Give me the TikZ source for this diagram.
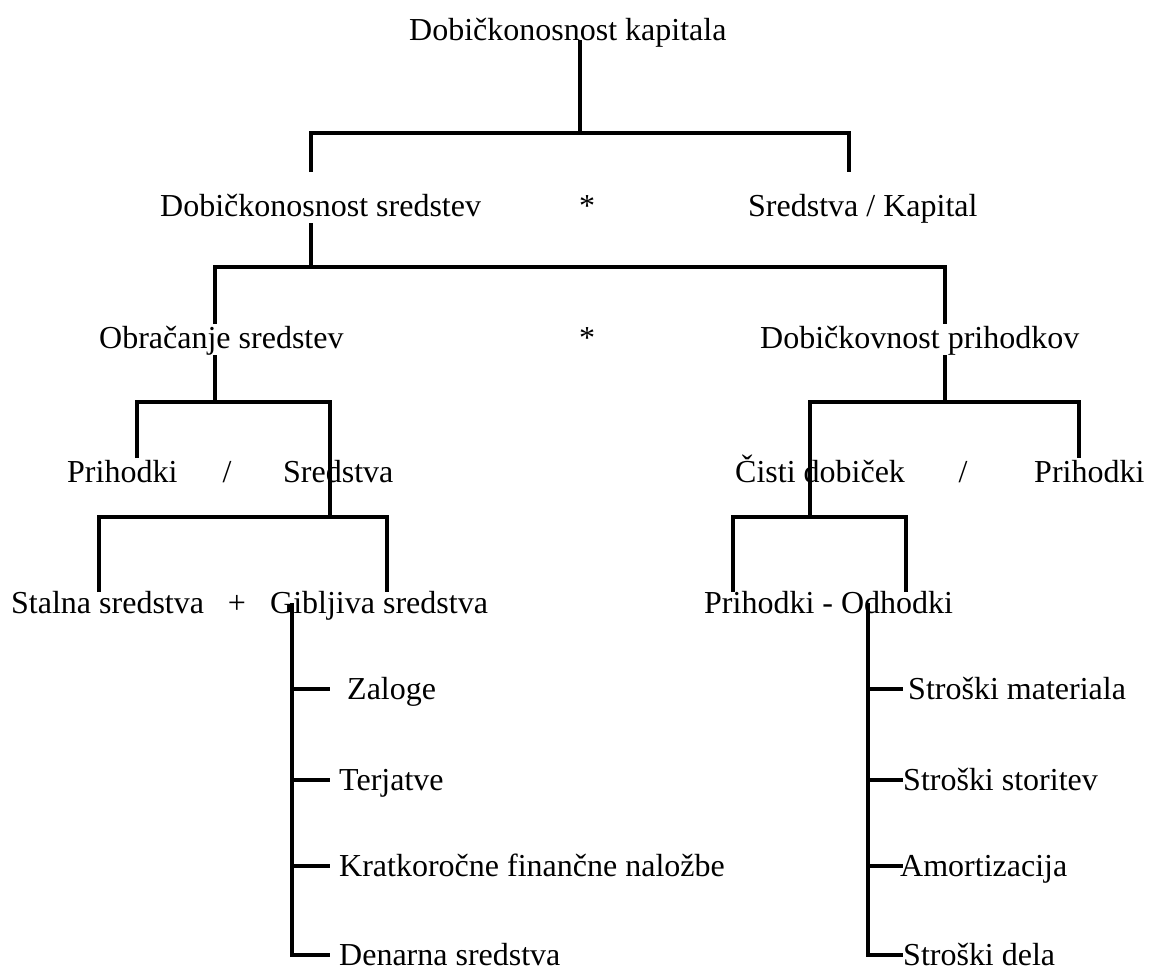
\documentclass[tikz,border=0pt]{standalone}
\usepackage{fontspec}
\setmainfont{Liberation Serif}

\begin{document}
\begin{tikzpicture}[
    x=1pt, y=-1pt,
    lbl/.style={anchor=base west, inner xsep=0pt, inner ysep=0pt, text height=22pt, text depth=7pt, font=\fontsize{32}{38}\selectfont},
    sym/.style={lbl, anchor=base},
    item/.style={lbl, inner xsep=9pt, text height=26pt, text depth=6pt},
    cost/.style={lbl, text height=26pt, text depth=6pt},
    tree/.style={line width=3.6pt}
]
\useasboundingbox (0,0) rectangle (1152,970);

% Nodes
\node[lbl] (kap) at (409,40) {Dobičkonosnost kapitala};

\node[lbl] (dsr) at (160,216) {Dobičkonosnost sredstev};
\node[sym] (star1) at (587,216) {*};
\node[lbl] (skap) at (748,216) {Sredstva / Kapital};

\node[lbl] (obr) at (99,348) {Obračanje sredstev};
\node[sym] (star2) at (587,348) {*};
\node[lbl] (dpr) at (760,348) {Dobičkovnost prihodkov};

\node[lbl] (pri1) at (67,482) {Prihodki};
\node[sym] (sl1) at (227,482) {/};
\node[lbl] (sre) at (283,482) {Sredstva};
\node[lbl] (cis) at (735,482) {Čisti dobiček};
\node[sym] (sl2) at (963,482) {/};
\node[lbl] (pri2) at (1034,482) {Prihodki};

\node[lbl] (sta) at (11,613) {Stalna sredstva};
\node[sym] (plus) at (237,613) {+};
\node[lbl] (gib) at (270,613) {Gibljiva sredstva};
\node[lbl] (pod) at (704,613) {Prihodki - Odhodki};

\node[item] (zal) at (338,699) {Zaloge};
\node[item] (ter) at (330,790) {Terjatve};
\node[item] (kfn) at (330,876) {Kratkoročne finančne naložbe};
\node[item] (den) at (330,965) {Denarna sredstva};

\node[cost] (sm) at (908,699) {Stroški materiala};
\node[cost] (ss) at (903,790) {Stroški storitev};
\node[cost] (am) at (900,876) {Amortizacija};
\node[cost] (sd) at (903,965) {Stroški dela};

% Junctions
\coordinate (j1) at (580,133);
\coordinate (d1a) at (311,172);
\coordinate (d1b) at (849,172);
\coordinate (j2) at (311,267);
\coordinate (d2a) at (215,324);
\coordinate (d2b) at (945,324);
\coordinate (j3) at (215,402);
\coordinate (d3a) at (137,458);
\coordinate (j4) at (330,517);
\coordinate (d4a) at (99,592);
\coordinate (d4b) at (387,592);
\coordinate (j5) at (945,402);
\coordinate (d5b) at (1079,458);
\coordinate (j6) at (810,517);
\coordinate (d6a) at (733,592);
\coordinate (d6b) at (906,592);
\coordinate (g0) at (292,603);
\coordinate (r0) at (868,603);

% Connections
\draw[tree] (kap.base -| j1) -- (j1);
\draw[tree] (d1a) |- (j1) -| (d1b);
\draw[tree] (dsr.south -| j2) -- (j2);
\draw[tree] (d2a) |- (j2) -| (d2b);
\draw[tree] (obr.south -| j3) -- (j3);
\draw[tree] (d3a) |- (j3) -| (j4);
\draw[tree] (d4a) |- (j4) -| (d4b);
\draw[tree] (dpr.south -| j5) -- (j5);
\draw[tree] (j6) |- (j5) -| (d5b);
\draw[tree] (d6a) |- (j6) -| (d6b);

\draw[tree] (g0) |- (den.west);
\foreach \n in {zal,ter,kfn}
    \draw[tree] (g0 |- \n.west) -- (\n.west -| den.west);
\draw[tree] (r0) |- (sd.west);
\foreach \n in {sm,ss,am}
    \draw[tree] (r0 |- \n.west) -- (\n.west -| sd.west);

\end{tikzpicture}
\end{document}
